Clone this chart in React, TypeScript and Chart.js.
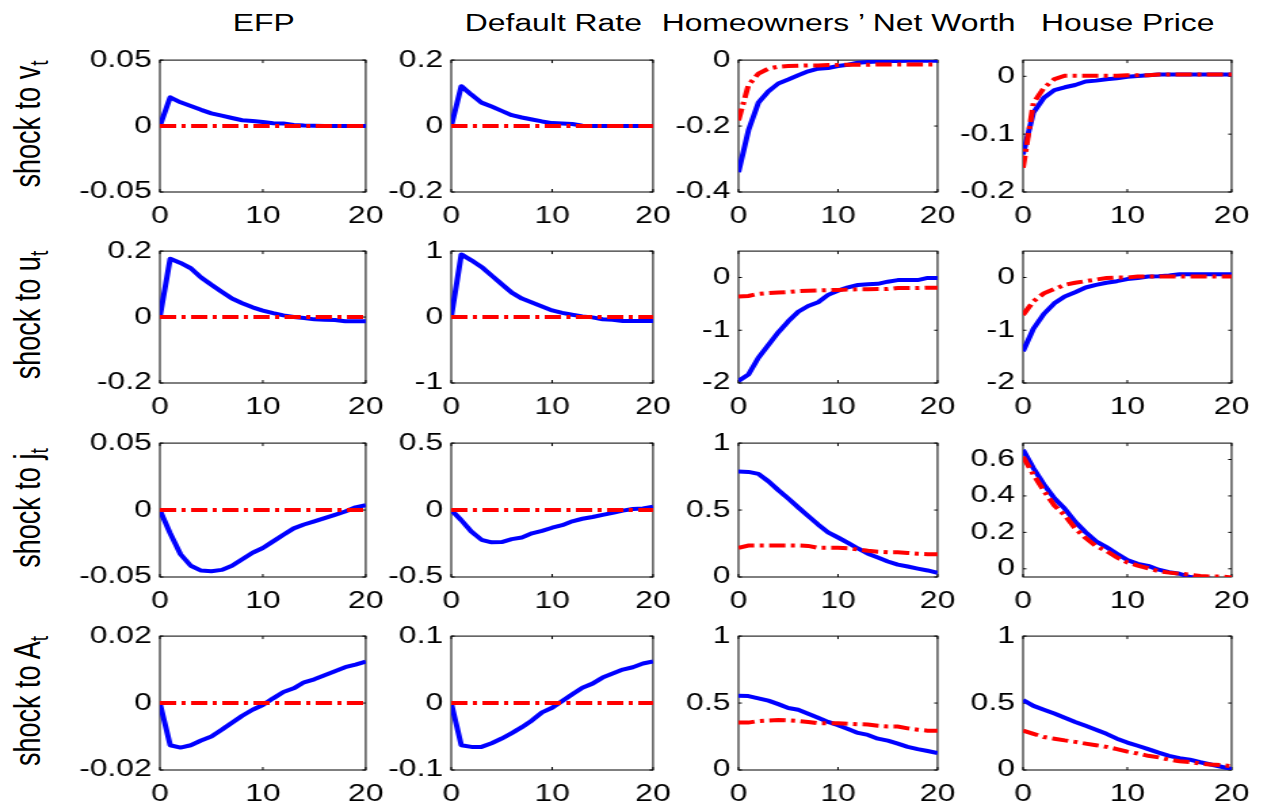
import React, { useEffect, useRef } from "react";
import { Chart, registerables } from "chart.js";

Chart.register(...registerables);

// ---------------- data ----------------
const horizon = [0, 1, 2, 3, 4, 5, 6, 7, 8, 9, 10, 11, 12, 13, 14, 15, 16, 17, 18, 19, 20];
const xTicks = [0, 10, 20];
const columnTitles = ["EFP", "Default Rate", "Homeowners \u2019 Net Worth", "House Price"];
const shockNames = ["v", "u", "j", "A"];

const zeros = [0, 0, 0, 0, 0, 0, 0, 0, 0, 0, 0, 0, 0, 0, 0, 0, 0, 0, 0, 0, 0];

// shock to v_t
const vEfpBlue = [0, 0.0218, 0.018, 0.0152, 0.0123, 0.0096, 0.0079, 0.0061, 0.0044, 0.0039, 0.003, 0.0022, 0.002, 0.0008, 0.0004, 0.0002, 0.0001, 0, 0, 0, 0];
const vEfpRed = zeros;
const vDefBlue = [0, 0.121, 0.095, 0.071, 0.059, 0.046, 0.033, 0.026, 0.02, 0.014, 0.009, 0.008, 0.006, 0.001, 0.0005, 0, 0, 0, 0, 0, 0];
const vDefRed = zeros;
const vNwBlue = [-0.34, -0.213, -0.129, -0.095, -0.071, -0.059, -0.046, -0.034, -0.026, -0.024, -0.018, -0.014, -0.008, -0.006, -0.004, -0.003, -0.003, -0.002, -0.002, -0.002, -0.002];
const vNwRed = [-0.183, -0.076, -0.041, -0.026, -0.02, -0.018, -0.017, -0.016, -0.016, -0.015, -0.015, -0.014, -0.014, -0.014, -0.013, -0.013, -0.013, -0.013, -0.013, -0.013, -0.013];
const vHpBlue = [-0.135, -0.0625, -0.037, -0.024, -0.019, -0.015, -0.009, -0.0075, -0.005, -0.0036, -0.0008, 0.0005, 0.002, 0.003, 0.003, 0.003, 0.003, 0.003, 0.003, 0.003, 0.003];
const vHpRed = [-0.158, -0.046, -0.02, -0.005, 0.001, 0.001, 0.001, 0.001, 0.001, 0.001, 0.002, 0.002, 0.002, 0.003, 0.003, 0.003, 0.003, 0.003, 0.003, 0.003, 0.003];

// shock to u_t
const uEfpBlue = [0, 0.177, 0.164, 0.148, 0.12, 0.098, 0.077, 0.056, 0.042, 0.0295, 0.0197, 0.0118, 0.005, 0, -0.003, -0.007, -0.008, -0.009, -0.013, -0.013, -0.013];
const uEfpRed = zeros;
const uDefBlue = [0, 0.95, 0.86, 0.76, 0.63, 0.5, 0.37, 0.28, 0.22, 0.16, 0.1, 0.064, 0.034, 0.01, -0.005, -0.034, -0.04, -0.059, -0.06, -0.06, -0.06];
const uDefRed = zeros;
const uNwBlue = [-1.96, -1.84, -1.52, -1.28, -1.04, -0.83, -0.65, -0.54, -0.47, -0.33, -0.25, -0.186, -0.143, -0.13, -0.12, -0.08, -0.05, -0.05, -0.05, -0.008, -0.008];
const uNwRed = [-0.36, -0.35, -0.31, -0.295, -0.285, -0.275, -0.26, -0.25, -0.245, -0.24, -0.235, -0.23, -0.225, -0.225, -0.22, -0.22, -0.2, -0.2, -0.2, -0.195, -0.195];
const uHpBlue = [-1.4, -0.97, -0.69, -0.49, -0.36, -0.28, -0.19, -0.14, -0.1, -0.07, -0.03, -0.01, 0.02, 0.025, 0.04, 0.06, 0.06, 0.06, 0.06, 0.06, 0.06];
const uHpRed = [-0.71, -0.45, -0.3, -0.22, -0.14, -0.1, -0.07, -0.04, -0.01, 0, 0, 0.02, 0.02, 0.02, 0.02, 0.02, 0.02, 0.02, 0.02, 0.02, 0.02];

// shock to j_t
const jEfpBlue = [0, -0.0174, -0.033, -0.0416, -0.0452, -0.0457, -0.0447, -0.0416, -0.0367, -0.0319, -0.0283, -0.0234, -0.0185, -0.0137, -0.0108, -0.0084, -0.006, -0.0036, -0.0011, 0.002, 0.0037];
const jEfpRed = zeros;
const jDefBlue = [0, -0.076, -0.161, -0.222, -0.241, -0.239, -0.217, -0.205, -0.174, -0.156, -0.132, -0.113, -0.084, -0.065, -0.052, -0.036, -0.021, -0.004, 0.008, 0.012, 0.025];
const jDefRed = zeros;
const jNwBlue = [0.787, 0.785, 0.77, 0.715, 0.649, 0.586, 0.52, 0.455, 0.392, 0.334, 0.295, 0.255, 0.213, 0.174, 0.145, 0.116, 0.092, 0.078, 0.063, 0.049, 0.032];
const jNwRed = [0.218, 0.235, 0.235, 0.235, 0.235, 0.235, 0.235, 0.232, 0.218, 0.218, 0.218, 0.215, 0.205, 0.196, 0.189, 0.185, 0.185, 0.18, 0.174, 0.17, 0.17];
const jHpBlue = [0.654, 0.552, 0.463, 0.387, 0.33, 0.258, 0.201, 0.151, 0.119, 0.083, 0.048, 0.027, 0.016, -0.005, -0.018, -0.027, -0.045, -0.05, -0.055, -0.058, -0.06];
const jHpRed = [0.615, 0.517, 0.428, 0.348, 0.294, 0.222, 0.169, 0.125, 0.098, 0.062, 0.035, 0.018, 0.003, -0.013, -0.021, -0.027, -0.032, -0.04, -0.042, -0.042, -0.048];

// shock to A_t
const aEfpBlue = [0, -0.0126, -0.0133, -0.0126, -0.0112, -0.01, -0.008, -0.0059, -0.0038, -0.002, -0.0006, 0.0014, 0.0033, 0.0044, 0.0062, 0.0071, 0.0083, 0.0095, 0.0107, 0.0115, 0.0124];
const aEfpRed = zeros;
const aDefBlue = [0, -0.063, -0.0655, -0.0655, -0.06, -0.053, -0.045, -0.036, -0.026, -0.014, -0.007, 0.003, 0.013, 0.023, 0.029, 0.038, 0.044, 0.05, 0.0535, 0.059, 0.062];
const aDefRed = zeros;
const aNwBlue = [0.554, 0.552, 0.535, 0.518, 0.492, 0.463, 0.45, 0.42, 0.39, 0.359, 0.335, 0.306, 0.277, 0.262, 0.234, 0.219, 0.197, 0.173, 0.156, 0.142, 0.127];
const aNwRed = [0.354, 0.354, 0.366, 0.37, 0.373, 0.37, 0.366, 0.359, 0.349, 0.349, 0.349, 0.345, 0.342, 0.34, 0.33, 0.325, 0.325, 0.311, 0.301, 0.294, 0.294];
const aHpBlue = [0.523, 0.479, 0.45, 0.422, 0.39, 0.359, 0.33, 0.301, 0.27, 0.234, 0.205, 0.181, 0.156, 0.13, 0.106, 0.089, 0.077, 0.058, 0.041, 0.024, 0.007];
const aHpRed = [0.294, 0.27, 0.246, 0.234, 0.221, 0.21, 0.197, 0.185, 0.173, 0.156, 0.137, 0.123, 0.106, 0.094, 0.077, 0.065, 0.06, 0.048, 0.041, 0.036, 0.029];

const blueSeries = [
  [vEfpBlue, vDefBlue, vNwBlue, vHpBlue],
  [uEfpBlue, uDefBlue, uNwBlue, uHpBlue],
  [jEfpBlue, jDefBlue, jNwBlue, jHpBlue],
  [aEfpBlue, aDefBlue, aNwBlue, aHpBlue],
];
const redSeries = [
  [vEfpRed, vDefRed, vNwRed, vHpRed],
  [uEfpRed, uDefRed, uNwRed, uHpRed],
  [jEfpRed, jDefRed, jNwRed, jHpRed],
  [aEfpRed, aDefRed, aNwRed, aHpRed],
];

const yMin = [
  [-0.05, -0.2, -0.4, -0.2],
  [-0.2, -1, -2, -2],
  [-0.05, -0.5, 0, -0.045],
  [-0.02, -0.1, 0, 0],
];
const yMax = [
  [0.05, 0.2, 0, 0.028],
  [0.2, 1, 0.5, 0.5],
  [0.05, 0.5, 1, 0.69],
  [0.02, 0.1, 1, 1],
];
const yTickLabels = [
  [["-0.05", "0", "0.05"], ["-0.2", "0", "0.2"], ["-0.4", "-0.2", "0"], ["-0.2", "-0.1", "0"]],
  [["-0.2", "0", "0.2"], ["-1", "0", "1"], ["-2", "-1", "0"], ["-2", "-1", "0"]],
  [["-0.05", "0", "0.05"], ["-0.5", "0", "0.5"], ["0", "0.5", "1"], ["0", "0.2", "0.4", "0.6"]],
  [["-0.02", "0", "0.02"], ["-0.1", "0", "0.1"], ["0", "0.5", "1"], ["0", "0.5", "1"]],
];

// ---------------- layout ----------------
const S = 1.355; // horizontal stretch of the whole figure
const FONT = '"Liberation Sans", Arial, Helvetica, sans-serif';
const TICK_FONT = 23.5;
const COL_L = [118.1, 333.4, 544.9, 754.8];
const COL_W = [153, 150, 148, 155];
const ROW_T = [56, 247, 439, 632];
const ROW_H = [136, 136, 138, 138];
const PAD_L = 80;
const PAD_T = 16;
const PAD_R = 22;
const PAD_B = 42;

const framePlugin = {
  id: "matlabFrame",
  beforeDatasetsDraw(chart: any) {
    const { ctx, chartArea, scales } = chart;
    const { left, top, right, bottom } = chartArea;
    ctx.save();
    ctx.strokeStyle = "#000";
    ctx.lineWidth = 1;
    ctx.strokeRect(left, top, right - left, bottom - top);
    ctx.beginPath();
    for (const v of xTicks) {
      const px = scales.x.getPixelForValue(v);
      ctx.moveTo(px, bottom);
      ctx.lineTo(px, bottom - 3);
      ctx.moveTo(px, top);
      ctx.lineTo(px, top + 3);
    }
    for (const t of scales.y.ticks) {
      const py = scales.y.getPixelForValue(t.value);
      ctx.moveTo(left, py);
      ctx.lineTo(left + 2.5, py);
      ctx.moveTo(right, py);
      ctx.lineTo(right - 2.5, py);
    }
    ctx.stroke();
    ctx.restore();
  },
};

function Panel({ row, col }: { row: number; col: number }) {
  const ref = useRef<HTMLCanvasElement>(null);
  const w = COL_W[col] + PAD_L + PAD_R;
  const h = ROW_H[row] + PAD_T + PAD_B;

  useEffect(() => {
    const labels = yTickLabels[row][col];
    const tickVals = labels.map(Number);
    const blue = blueSeries[row][col];
    const red = redSeries[row][col];
    const chart = new Chart(ref.current as HTMLCanvasElement, {
      type: "line",
      data: {
        datasets: [
          {
            data: horizon.map((t, i) => ({ x: t, y: red[i] })),
            borderColor: "#ff0000",
            borderWidth: 4,
            borderDash: [12, 4, 3, 4],
            borderCapStyle: "butt",
            pointRadius: 0,
            tension: 0,
            fill: false,
            order: 0,
          },
          {
            data: horizon.map((t, i) => ({ x: t, y: blue[i] })),
            borderColor: "#0000ff",
            borderWidth: 4,
            borderJoinStyle: "round",
            pointRadius: 0,
            tension: 0,
            fill: false,
            order: 1,
          },
        ],
      },
      options: {
        animation: false,
        responsive: false,
        maintainAspectRatio: false,
        events: [],
        layout: { padding: { left: 0, top: PAD_T, right: PAD_R, bottom: 0 } },
        plugins: {
          legend: { display: false },
          tooltip: { enabled: false },
          title: { display: false },
        },
        scales: {
          x: {
            type: "linear",
            min: 0,
            max: 20,
            grid: { display: false, drawTicks: false },
            border: { display: false },
            afterBuildTicks: (s: any) => {
              s.ticks = xTicks.map((v) => ({ value: v }));
            },
            afterFit: (s: any) => {
              s.height = PAD_B;
            },
            ticks: {
              font: { family: FONT, size: TICK_FONT },
              color: "#000",
              padding: 10,
              maxRotation: 0,
              autoSkip: false,
              callback: (v: any) => String(v),
            },
          },
          y: {
            type: "linear",
            min: yMin[row][col],
            max: yMax[row][col],
            grid: { display: false, drawTicks: false },
            border: { display: false },
            afterBuildTicks: (s: any) => {
              s.ticks = tickVals.map((v) => ({ value: v }));
            },
            afterFit: (s: any) => {
              s.width = PAD_L;
            },
            ticks: {
              font: { family: FONT, size: TICK_FONT },
              color: "#000",
              padding: 6,
              autoSkip: false,
              callback: (v: any) => {
                const i = tickVals.findIndex((t) => Math.abs(t - v) < 1e-9);
                return i >= 0 ? labels[i] : "";
              },
            },
          },
        },
      },
      plugins: [framePlugin],
    } as any);
    return () => chart.destroy();
  }, [row, col]);

  return (
    <canvas
      ref={ref}
      width={w}
      height={h}
      style={{
        position: "absolute",
        left: COL_L[col] - PAD_L,
        top: ROW_T[row] - PAD_T,
        width: w,
        height: h,
      }}
    />
  );
}

export default function App() {
  const rows = [0, 1, 2, 3];
  const cols = [0, 1, 2, 3];
  return (
    <div
      style={{
        position: "absolute",
        left: 0,
        top: 0,
        width: 1265 / S,
        height: 808,
        background: "#fff",
        transform: `scaleX(${S})`,
        transformOrigin: "0 0",
        fontFamily: FONT,
        color: "#000",
        overflow: "visible",
      }}
    >
      {cols.map((c) => (
        <div
          key={"t" + c}
          style={{
            position: "absolute",
            left: COL_L[c] + COL_W[c] / 2,
            top: 12,
            transform: "translateX(-50%)",
            fontSize: 23.5,
            lineHeight: "23.5px",
            whiteSpace: "nowrap",
          }}
        >
          {columnTitles[c]}
        </div>
      ))}
      {rows.map((r) => (
        <div
          key={"r" + r}
          style={{
            position: "absolute",
            left: 21.5,
            top: ROW_T[r] + ROW_H[r] / 2,
            transform: "translate(-50%, -50%) rotate(-90deg)",
            fontSize: 27,
            lineHeight: "27px",
            whiteSpace: "nowrap",
          }}
        >
          shock to {shockNames[r]}
          <span style={{ fontSize: 19, position: "relative", top: 6 }}>t</span>
        </div>
      ))}
      {rows.map((r) =>
        cols.map((c) => <Panel key={r + "-" + c} row={r} col={c} />)
      )}
    </div>
  );
}
